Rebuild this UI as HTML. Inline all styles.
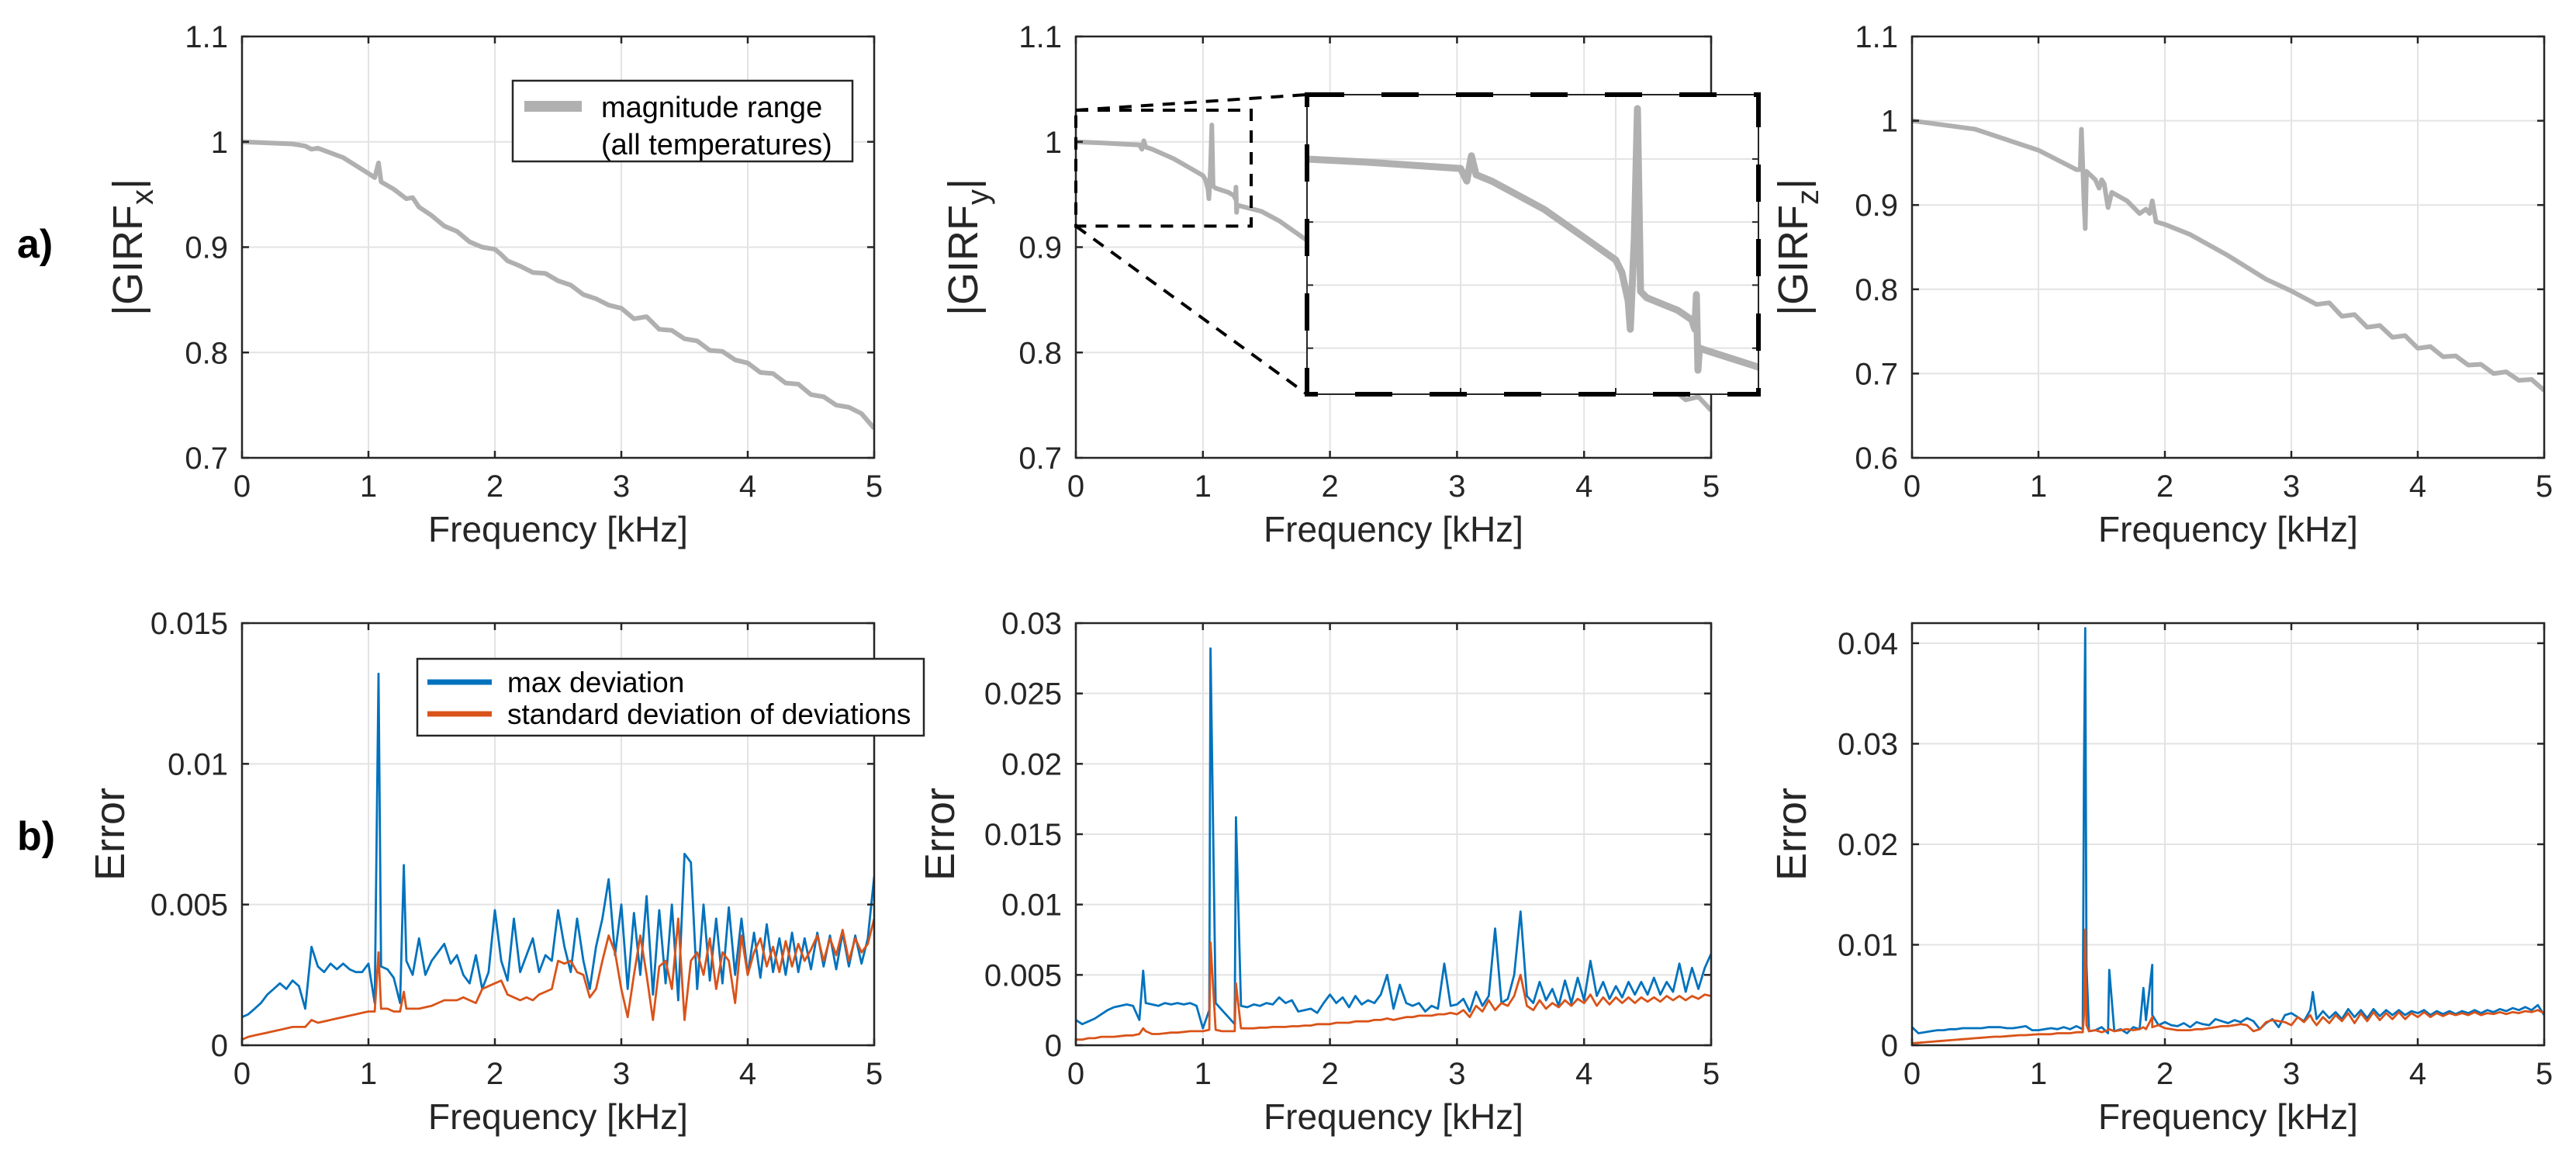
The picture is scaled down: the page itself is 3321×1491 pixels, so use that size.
<!DOCTYPE html>
<html><head><meta charset="utf-8"><style>
html,body{margin:0;padding:0;background:#fff;}
svg{display:block;font-family:"Liberation Sans",Arial,sans-serif;}
</style></head><body>
<svg id="fig" width="3321" height="1491" viewBox="0 0 3321 1491" xmlns="http://www.w3.org/2000/svg">
<rect width="3321" height="1491" fill="#fff"/>
<text x="22" y="332" font-size="52" font-weight="bold" fill="#000">a)</text>
<text x="22" y="1095" font-size="52" font-weight="bold" fill="#000">b)</text>
</svg>
<script>
// ---------- data ----------
const xTicks = [0,1,2,3,4,5];
const gxFreq = [0,0.2,0.4,0.5,0.55,0.6,0.8,1.0,1.05,1.08,1.1,1.2,1.3,1.35,1.4,1.5,1.6,1.7,1.8,1.9,2.0,2.05,2.1,2.2,2.3,2.4,2.5,2.6,2.7,2.8,2.9,3.0,3.1,3.2,3.3,3.4,3.5,3.6,3.7,3.8,3.9,4.0,4.1,4.2,4.3,4.4,4.5,4.6,4.7,4.8,4.9,5.0];
const gxMag = [1.000,0.999,0.998,0.996,0.993,0.994,0.985,0.970,0.966,0.980,0.962,0.955,0.946,0.947,0.938,0.930,0.920,0.915,0.905,0.900,0.898,0.893,0.887,0.882,0.876,0.875,0.868,0.864,0.855,0.851,0.845,0.842,0.832,0.834,0.822,0.821,0.813,0.811,0.802,0.801,0.793,0.790,0.781,0.780,0.771,0.770,0.760,0.758,0.750,0.748,0.742,0.728];
const gyFreq = [0,0.2,0.42,0.5,0.52,0.535,0.55,0.6,0.77,0.9,1.0,1.02,1.04,1.047,1.06,1.07,1.08,1.1,1.2,1.245,1.255,1.26,1.265,1.27,1.3,1.46,1.6,1.8,2.0,2.5,3.0,3.5,4.0,4.5,4.6,4.7,4.8,4.9,5.0];
const gyMag = [1.0,0.999,0.9975,0.997,0.993,1.001,0.995,0.993,0.984,0.975,0.968,0.964,0.955,0.946,0.975,1.016,0.958,0.956,0.952,0.949,0.946,0.957,0.933,0.940,0.939,0.934,0.925,0.908,0.895,0.865,0.840,0.810,0.785,0.768,0.762,0.765,0.755,0.758,0.745];
const gzFreq = [0,0.5,1.0,1.3,1.33,1.34,1.36,1.37,1.38,1.45,1.48,1.5,1.52,1.55,1.58,1.7,1.8,1.85,1.88,1.9,1.93,2.0,2.2,2.5,2.8,3.0,3.2,3.3,3.4,3.5,3.6,3.7,3.8,3.9,4.0,4.1,4.2,4.3,4.4,4.5,4.6,4.7,4.8,4.9,5.0];
const gzMag = [1.0,0.99,0.965,0.942,0.942,0.99,0.905,0.872,0.94,0.93,0.92,0.93,0.925,0.897,0.915,0.905,0.89,0.895,0.89,0.905,0.88,0.877,0.865,0.84,0.812,0.798,0.782,0.784,0.768,0.77,0.755,0.757,0.743,0.745,0.73,0.732,0.72,0.721,0.71,0.711,0.70,0.702,0.692,0.693,0.68];
// error grids: value i at frequency i*0.05 kHz, units 1e-3
const errXMax = [1.0,1.1,1.3,1.5,1.8,2.0,2.2,2.0,2.3,2.1, 1.3,3.5,2.8,2.6,2.9,2.7,2.9,2.7,2.6,2.6, 2.9,1.5,2.8,2.7,2.4,1.5,3.0,2.5,3.8,2.5, 3.0,3.3,3.6,2.9,3.2,2.5,2.2,3.2,2.0,2.6, 4.8,3.0,2.3,4.5,2.6,3.2,3.8,2.6,3.2,3.0, 4.8,3.5,2.6,4.5,3.0,2.0,3.5,4.5,5.9,3.2, 5.0,2.0,4.7,2.5,5.3,1.8,4.8,2.2,5.0,1.6, 6.8,6.5,2.0,5.0,2.3,4.5,2.2,4.9,2.5,4.5, 2.5,4.0,2.4,4.3,2.6,3.8,2.5,4.0,2.6,3.8, 2.7,4.0,2.8,3.9,2.7,4.0,2.8,3.9,2.9,3.8, 6.0];
const errXStd = [0.2,0.3,0.35,0.4,0.45,0.5,0.55,0.6,0.65,0.65, 0.65,0.9,0.8,0.85,0.9,0.95,1.0,1.05,1.1,1.15, 1.2,1.2,1.3,1.3,1.2,1.2,1.3,1.3,1.3,1.35, 1.4,1.5,1.6,1.6,1.6,1.7,1.6,1.5,2.0,2.1, 2.2,2.3,1.8,1.7,1.6,1.7,1.6,1.8,1.9,2.0, 3.0,2.9,3.0,2.6,2.5,1.7,2.0,3.0,3.9,3.3, 2.0,1.0,2.5,3.9,2.5,0.9,2.8,3.0,2.0,4.5, 0.9,3.0,3.3,2.5,3.8,2.0,3.3,3.0,1.5,3.9, 2.5,3.3,3.8,2.8,3.5,2.6,3.7,2.8,3.6,3.0, 3.4,3.9,3.0,3.8,3.2,4.1,3.0,3.8,3.3,3.6, 4.5];
const peakXFreq = [1.08,1.28];
const peakXMax = [13.2,6.4];
const peakXStd = [3.3,1.9];
const errYMax = [1.8,1.5,1.7,1.9,2.2,2.5,2.7,2.8,2.9,2.8, 1.8,3.0,2.9,2.8,3.0,2.9,3.0,2.9,3.0,2.8, 1.2,2.5,3.0,2.5,2.0,1.5,2.8,2.7,2.9,2.8, 3.0,2.9,3.4,3.0,3.2,2.4,2.5,2.6,2.3,3.0, 3.6,3.0,3.4,2.7,3.5,2.9,3.2,3.0,3.6,5.0, 2.6,4.3,3.0,2.8,3.0,2.4,2.8,2.6,5.8,2.8, 2.9,3.3,2.4,3.8,2.8,3.5,8.3,3.0,3.3,5.0, 9.5,3.5,3.0,4.5,3.2,4.0,2.8,4.6,3.0,4.8, 3.2,6.0,3.5,4.5,3.3,4.2,3.4,4.5,3.6,4.5, 3.6,4.8,3.6,4.5,3.8,5.8,3.8,5.5,4.0,5.5, 6.5];
const errYStd = [0.4,0.4,0.5,0.5,0.6,0.6,0.6,0.65,0.7,0.7, 0.8,1.0,0.8,0.8,0.85,0.9,0.9,0.95,1.0,1.0, 1.0,1.1,1.1,1.0,1.0,1.0,1.2,1.2,1.2,1.25, 1.25,1.3,1.3,1.3,1.35,1.35,1.4,1.4,1.5,1.5, 1.5,1.6,1.6,1.6,1.7,1.7,1.7,1.8,1.8,1.9, 1.8,1.9,2.0,2.0,2.1,2.1,2.1,2.2,2.2,2.3, 2.2,2.5,2.0,2.8,2.4,3.2,2.5,3.0,2.8,3.5, 5.0,2.8,2.5,3.2,2.6,3.0,2.7,3.2,2.8,3.3, 3.0,3.6,2.8,3.4,2.9,3.4,3.0,3.4,3.0,3.4, 3.1,3.4,3.1,3.5,3.2,3.5,3.2,3.5,3.3,3.6, 3.5];
const peakYFreq = [0.53,1.06,1.26];
const peakYMax = [5.3,28.2,16.2];
const peakYStd = [1.2,7.3,4.4];
const errZMax = [1.8,1.2,1.3,1.4,1.5,1.5,1.6,1.6,1.7,1.7, 1.7,1.7,1.8,1.8,1.8,1.7,1.7,1.8,1.9,1.5, 1.5,1.6,1.7,1.6,1.8,1.6,1.9,1.6,1.4,1.5, 1.8,1.2,1.4,1.6,1.2,1.8,1.6,2.5,3.0,2.0, 2.3,2.0,1.9,2.2,1.8,2.3,2.1,2.0,2.6,2.4, 2.2,2.5,2.3,2.7,2.4,1.6,2.2,2.6,1.8,3.0, 3.2,2.8,2.4,3.5,2.6,3.4,2.7,3.3,2.6,3.6, 2.8,3.5,2.7,3.6,2.9,3.5,3.0,3.5,3.0,3.4, 3.2,3.5,3.0,3.4,3.1,3.4,3.1,3.4,3.2,3.5, 3.2,3.5,3.3,3.6,3.4,3.7,3.5,3.8,3.5,4.0, 3.0];
const errZStd = [0.2,0.25,0.3,0.35,0.4,0.45,0.5,0.55,0.6,0.65, 0.7,0.75,0.8,0.85,0.85,0.9,0.95,1.0,1.0,1.05, 1.1,1.1,1.1,1.2,1.2,1.2,1.3,1.3,1.4,1.5, 1.3,1.5,1.4,1.5,1.6,1.5,1.6,1.6,1.8,2.0, 1.7,1.6,1.5,1.5,1.5,1.6,1.6,1.7,1.8,1.9, 1.9,2.0,2.1,2.0,1.4,1.6,2.3,2.5,2.4,2.3, 2.0,2.8,2.3,3.0,2.0,2.8,2.2,3.0,2.4,3.2, 2.2,3.2,2.4,3.3,2.5,3.2,2.6,3.3,2.6,3.2, 2.8,3.3,2.8,3.2,2.9,3.2,3.0,3.2,3.0,3.3, 3.0,3.2,3.1,3.3,3.1,3.3,3.2,3.4,3.3,3.5, 3.2];
const peakZFreq = [1.36,1.37,1.38,1.56,1.83,1.9,3.17];
const peakZMax = [27.5,41.5,8,7.5,5.7,8,5.3];
const peakZStd = [3,11.5,2,1.6,1.8,2.8,2.5];
const topYTicksXY = [0.7,0.8,0.9,1,1.1];
const topYTickLabelsXY = ['0.7','0.8','0.9','1','1.1'];
const topYTicksZ = [0.6,0.7,0.8,0.9,1,1.1];
const topYTickLabelsZ = ['0.6','0.7','0.8','0.9','1','1.1'];
const errTicksX = [0,0.005,0.01,0.015];
const errTickLabelsX = ['0','0.005','0.01','0.015'];
const errTicksY = [0,0.005,0.01,0.015,0.02,0.025,0.03];
const errTickLabelsY = ['0','0.005','0.01','0.015','0.02','0.025','0.03'];
const errTicksZ = [0,0.01,0.02,0.03,0.04];
const errTickLabelsZ = ['0','0.01','0.02','0.03','0.04'];

// ---------- drawing ----------
const NS='http://www.w3.org/2000/svg';
const svg=document.getElementById('fig');
function mk(tag,attrs,parent){const e=document.createElementNS(NS,tag);for(const k in attrs)e.setAttribute(k,attrs[k]);(parent||svg).appendChild(e);return e;}
function scaler(d0,d1,r0,r1){return v=>r0+(v-d0)/(d1-d0)*(r1-r0);}
function combine(grid,pf,pv){const pts=grid.map((v,i)=>[i*0.05,v]);pf.forEach((f,i)=>pts.push([f,pv[i]]));pts.sort((a,b)=>a[0]-b[0]);return pts;}
function pathFrom(fr,vals,sx,sy){let d='';fr.forEach((f,i)=>{d+=(i?'L':'M')+sx(f).toFixed(1)+','+sy(vals[i]).toFixed(1);});return d;}

function axes(id,L,R,T,B,ymin,ymax,yt,ytl,ylabelMain,ylabelSub,ylabX){
  const g=mk('g',{});
  
  
  const sx=scaler(0,5,L,R), sy=scaler(ymin,ymax,B,T);
  mk('rect',{x:L,y:T,width:R-L,height:B-T,fill:'#fff'},g);
  xTicks.forEach(t=>{const l=mk('line',{x1:sx(t),x2:sx(t),y1:T,y2:B,stroke:'#e3e3e3','stroke-width':2},g);
    
    });
  yt.forEach(t=>{const l=mk('line',{x1:L,x2:R,y1:sy(t),y2:sy(t),stroke:'#e3e3e3','stroke-width':2},g);
    
    });
  return {g,sx,sy,L,R,T,B,ymin,ymax,yt,ytl,ylabelMain,ylabelSub,ylabX};
}
function finishAxes(a){
  const {g,sx,sy,L,R,T,B,yt,ytl}=a;
  const fg=mk('g',{});
  
  
  mk('rect',{x:L,y:T,width:R-L,height:B-T,fill:'none',stroke:'#262626','stroke-width':2.5},fg);
  xTicks.forEach(t=>{mk('line',{x1:sx(t),x2:sx(t),y1:B,y2:B-9,stroke:'#262626','stroke-width':2.5},fg);mk('line',{x1:sx(t),x2:sx(t),y1:T,y2:T+9,stroke:'#262626','stroke-width':2.5},fg);
    const tx=mk('text',{x:sx(t),y:B+50,'font-size':40,'text-anchor':'middle',fill:'#262626'},fg);tx.textContent=t;
    
    });
  yt.forEach((t,i)=>{mk('line',{x1:L,x2:L+9,y1:sy(t),y2:sy(t),stroke:'#262626','stroke-width':2.5},fg);mk('line',{x1:R,x2:R-9,y1:sy(t),y2:sy(t),stroke:'#262626','stroke-width':2.5},fg);
    const tx=mk('text',{x:L-18,y:sy(t)+14,'font-size':40,'text-anchor':'end',fill:'#262626'},fg);tx.textContent=ytl[i];
    
    });
  const xl=mk('text',{x:(L+R)/2,y:B+108,'font-size':46,'text-anchor':'middle',fill:'#262626'},fg);xl.textContent='Frequency [kHz]';
  
  
  const cy=(T+B)/2;
  const yl=mk('text',{x:0,y:0,'font-size':54,'text-anchor':'middle',fill:'#262626',transform:`translate(${a.ylabX},${cy}) rotate(-90)`},fg);
  
  
  if(a.ylabelSub){yl.textContent='|GIRF';const s=mk('tspan',{'font-size':40,dy:14},yl);s.textContent=a.ylabelSub;const s2=mk('tspan',{dy:-14},yl);s2.textContent='|';}
  else yl.textContent=a.ylabelMain;
}
function clipFor(id,a){const cp=mk('clipPath',{id});mk('rect',{x:a.L,y:a.T,width:a.R-a.L,height:a.B-a.T},cp);return `url(#${id})`;}
function curve(a,fr,vals,color,w,name,clip){const p=mk('path',{d:pathFrom(fr,vals,a.sx,a.sy),fill:'none',stroke:color,'stroke-width':w,'stroke-linejoin':'round','clip-path':clip},a.g);
  
  return p;}

const colL=[312,1127], colM=[1387,2206], colR=[2465,3280];
const topTB=[47,590], botTB=[803,1347];
const GRAY='#b0b0b0', BLUE='#0072BD', ORANGE='#D95319';

// top-left
let a=axes('girf-x-plot',colL[0],colL[1],topTB[0],topTB[1],0.7,1.1,topYTicksXY,topYTickLabelsXY,'','x',183);
curve(a,gxFreq,gxMag,GRAY,6,'girf-x-magnitude-band',clipFor('c1',a));
finishAxes(a);
// legend top-left
{const lg=mk('g',{});
 
 
 mk('rect',{x:661,y:104,width:438,height:104,fill:'#fff',stroke:'#262626','stroke-width':2.5},lg);
 mk('line',{x1:676,x2:750,y1:137,y2:137,stroke:GRAY,'stroke-width':14},lg);
 const t1=mk('text',{x:775,y:151,'font-size':38,fill:'#000'},lg);t1.textContent='magnitude range';
 const t2=mk('text',{x:775,y:199,'font-size':38,fill:'#000'},lg);t2.textContent='(all temperatures)';}

// top-middle
a=axes('girf-y-plot',colM[0],colM[1],topTB[0],topTB[1],0.7,1.1,topYTicksXY,topYTickLabelsXY,'','y',1260);
curve(a,gyFreq,gyMag,GRAY,6,'girf-y-magnitude-band',clipFor('c2',a));
finishAxes(a);
// zoom rect + connectors + inset
{const sx=a.sx, sy=a.sy;
 const zx0=sx(0), zx1=sx(1.38), zy0=sy(1.030), zy1=sy(0.920);
 const zg=mk('g',{});
 
 
 const IL=1685, IR=2267, IT=122, IB=508;
 mk('line',{x1:zx0,y1:zy0,x2:IL,y2:IT,stroke:'#000','stroke-width':4,'stroke-dasharray':'16,12'},zg);
 mk('line',{x1:zx0,y1:zy1,x2:IL,y2:IB,stroke:'#000','stroke-width':4,'stroke-dasharray':'16,12'},zg);
 mk('rect',{x:zx0,y:zy0,width:zx1-zx0,height:zy1-zy0,fill:'none',stroke:'#000','stroke-width':4,'stroke-dasharray':'16,12'},zg);
 const ig=mk('g',{});
 
 
 const isx=scaler(0,1.46,1683,2267), isy=scaler(0.9254,1.0204,IB,IT);
 mk('rect',{x:IL,y:IT,width:IR-IL,height:IB-IT,fill:'#fff'},ig);
 [0.5,1.0].forEach(t=>mk('line',{x1:isx(t),x2:isx(t),y1:IT,y2:IB,stroke:'#e3e3e3','stroke-width':2},ig));
 [0.94,0.96,0.98,1.0].forEach(t=>{mk('line',{x1:IL,x2:IR,y1:isy(t),y2:isy(t),stroke:'#e3e3e3','stroke-width':2},ig);
   mk('line',{x1:IR,x2:IR-8,y1:isy(t),y2:isy(t),stroke:'#262626','stroke-width':2},ig);mk('line',{x1:IL,x2:IL+8,y1:isy(t),y2:isy(t),stroke:'#262626','stroke-width':2},ig);});
 [0.5,1.0].forEach(t=>{mk('line',{x1:isx(t),x2:isx(t),y1:IB,y2:IB-8,stroke:'#262626','stroke-width':2},ig);});
 const cp=mk('clipPath',{id:'cin'});mk('rect',{x:IL,y:IT,width:IR-IL,height:IB-IT},cp);
 const ip=mk('path',{d:pathFrom(gyFreq,gyMag,isx,isy),fill:'none',stroke:GRAY,'stroke-width':9,'stroke-linejoin':'round','clip-path':'url(#cin)'},ig);
 
 
 mk('rect',{x:IL,y:IT,width:IR-IL,height:IB-IT,fill:'none',stroke:'#262626','stroke-width':2},ig);
 mk('rect',{x:IL,y:IT,width:IR-IL,height:IB-IT,fill:'none',stroke:'#000','stroke-width':6,'stroke-dasharray':'48,48'},ig);
}

// top-right
a=axes('girf-z-plot',colR[0],colR[1],topTB[0],topTB[1],0.6,1.1,topYTicksZ,topYTickLabelsZ,'','z',2330);
curve(a,gzFreq,gzMag,GRAY,6,'girf-z-magnitude-band',clipFor('c3',a));
finishAxes(a);

function errPlot(id,col,ymax,yt,ytl,maxG,stdG,pf,pm,ps,ylx,cid){
  const b=axes(id,col[0],col[1],botTB[0],botTB[1],0,ymax,yt,ytl,'Error',null,ylx);
  const m=combine(maxG,pf,pm), s=combine(stdG,pf,ps);
  const clip=clipFor(cid,b);
  curve(b,m.map(p=>p[0]),m.map(p=>p[1]/1000),BLUE,2.8,'max-deviation-line',clip);
  curve(b,s.map(p=>p[0]),s.map(p=>p[1]/1000),ORANGE,2.8,'std-deviation-line',clip);
  finishAxes(b);
}
errPlot('error-x-plot',colL,0.015,errTicksX,errTickLabelsX,errXMax,errXStd,peakXFreq,peakXMax,peakXStd,160,'e1');
errPlot('error-y-plot',colM,0.03,errTicksY,errTickLabelsY,errYMax,errYStd,peakYFreq,peakYMax,peakYStd,1230,'e2');
errPlot('error-z-plot',colR,0.042,errTicksZ,errTickLabelsZ,errZMax,errZStd,peakZFreq,peakZMax,peakZStd,2328,'e3');

// legend bottom
{const lg=mk('g',{});
 
 
 mk('rect',{x:538,y:849,width:653,height:99,fill:'#fff',stroke:'#262626','stroke-width':2.5},lg);
 mk('line',{x1:551,x2:634,y1:879,y2:879,stroke:BLUE,'stroke-width':7},lg);
 mk('line',{x1:551,x2:634,y1:920,y2:920,stroke:ORANGE,'stroke-width':7},lg);
 const t1=mk('text',{x:654,y:892,'font-size':37,fill:'#000'},lg);t1.textContent='max deviation';
 const t2=mk('text',{x:654,y:933,'font-size':37,fill:'#000'},lg);t2.textContent='standard deviation of deviations';}
</script>
</body></html>
